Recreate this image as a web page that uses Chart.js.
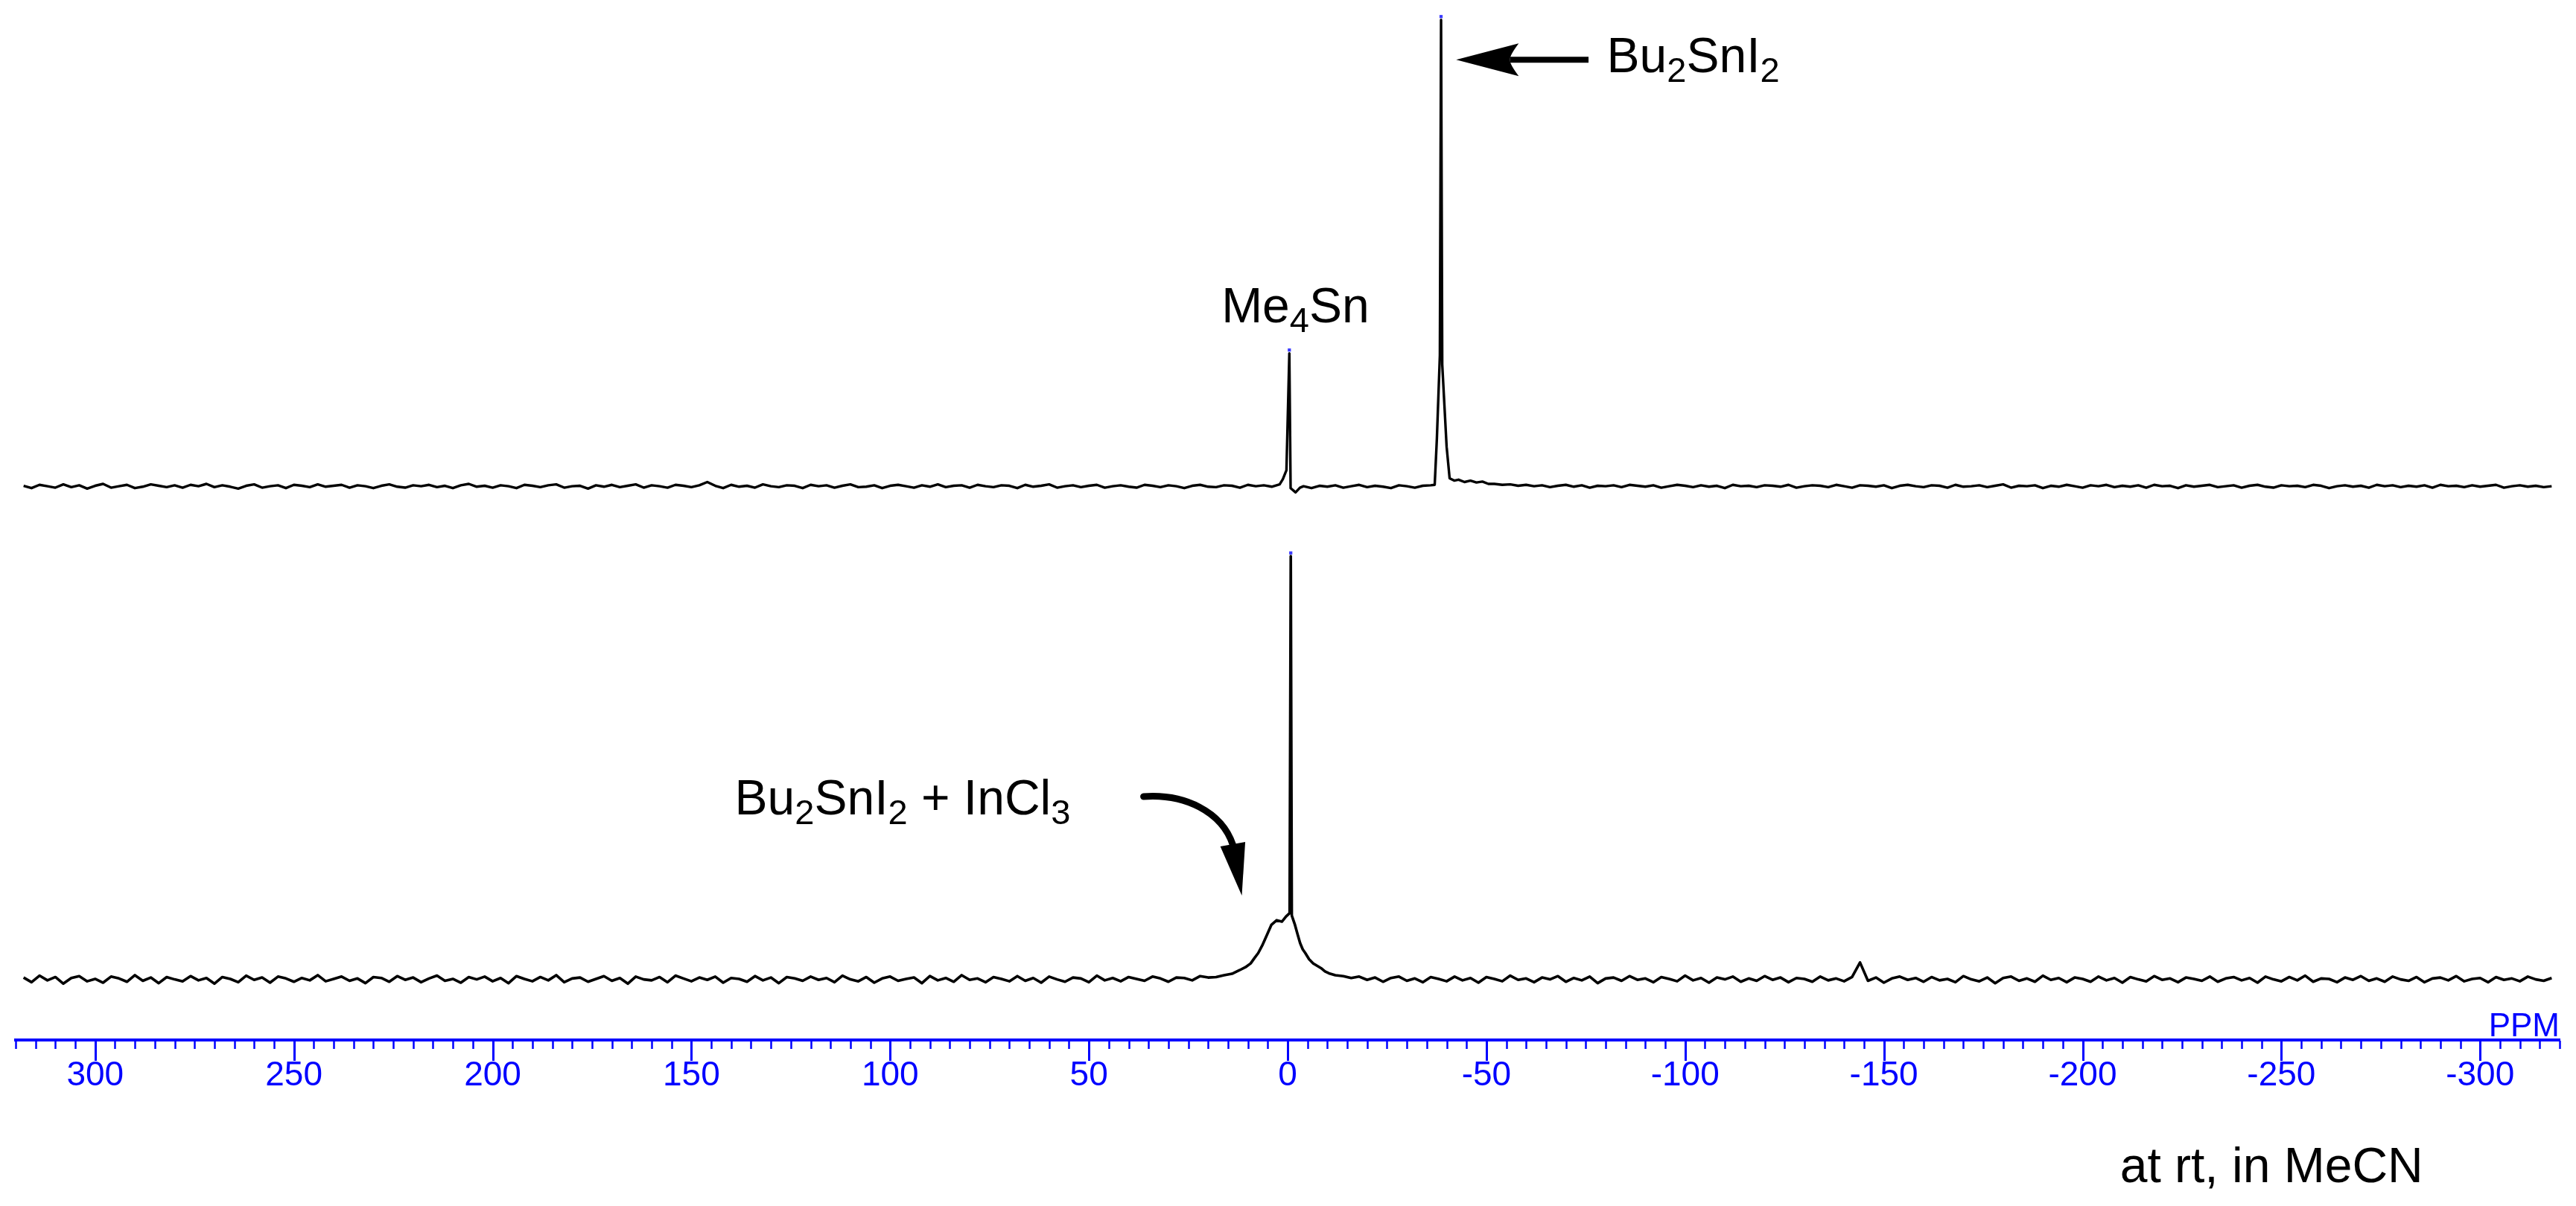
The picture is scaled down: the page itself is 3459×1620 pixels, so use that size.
<!DOCTYPE html>
<html>
<head>
<meta charset="utf-8">
<script src="https://cdn.jsdelivr.net/npm/chart.js@4.4.1/dist/chart.umd.min.js"></script>
<style>
  html, body { margin: 0; padding: 0; background: #fff; overflow: hidden; }
  canvas { display: block; }
</style>
</head>
<body>
<canvas id="c" width="3459" height="1620" style="width:3459px;height:1620px"></canvas>
<script>
// ---------------- DATA ----------------
// Baseline sampling grid: chemical shift (ppm) of sample i = GRID_START - GRID_STEP * i
const GRID_START = 318;
const GRID_STEP = 2;

// Upper spectrum (Bu2SnI2 + Me4Sn reference) baseline intensities on the grid
// (null = region covered by the peak table below)
const topNoise = [
  0.2,-0.3,0.4,0.1,-0.2,0.5,-0.1,0.3,-0.4,0.2,0.6,-0.2,0.1,0.4,-0.3,0.0,0.5,0.2,-0.1,0.3,
  -0.2,0.4,0.1,0.6,-0.1,0.3,0.0,-0.4,0.2,0.5,-0.2,0.1,0.3,-0.3,0.4,0.2,-0.1,0.5,0.0,0.2,
  0.4,-0.2,0.3,0.1,-0.3,0.2,0.5,0.0,-0.2,0.3,0.1,0.4,-0.1,0.2,-0.3,0.3,0.6,0.0,0.2,-0.2,
  0.3,0.1,-0.3,0.4,0.2,-0.1,0.3,0.5,-0.2,0.1,0.2,-0.4,0.3,0.0,0.4,-0.1,0.2,0.5,-0.2,0.3,
  0.1,-0.2,0.4,0.2,-0.1,0.3,1.0,0.2,-0.3,0.4,0.0,0.2,-0.2,0.5,0.1,-0.1,0.3,0.2,-0.3,0.4,
  0.1,0.3,-0.2,0.2,0.5,-0.1,0.0,0.3,-0.3,0.2,0.4,0.1,-0.2,0.3,0.0,0.5,-0.1,0.2,0.3,-0.2,
  0.4,0.1,-0.1,0.3,0.2,-0.3,0.4,0.0,0.2,0.5,-0.2,0.1,0.3,-0.1,0.2,0.4,-0.2,0.1,0.3,0.0,
  -0.2,0.4,0.2,-0.1,0.3,0.1,-0.3,0.2,0.4,0.0,-0.1,0.3,0.2,-0.2,0.4,0.1,0.3,0.0,0.5,null,
  null,0.1,-0.3,0.2,0.0,0.3,-0.2,0.1,0.4,-0.1,0.2,0.0,-0.3,0.3,0.1,-0.2,0.2,0.3,null,null,
  null,null,null,null,null,0.6,0.4,0.5,0.2,0.4,0.1,0.3,-0.1,0.2,0.4,0.0,0.3,-0.2,0.2,0.1,
  0.3,-0.1,0.4,0.2,0.0,0.3,-0.2,0.1,0.4,0.2,-0.1,0.3,0.0,0.2,-0.3,0.4,0.1,0.2,-0.1,0.3,
  0.2,0.0,0.4,-0.2,0.1,0.3,0.2,-0.1,0.4,0.1,-0.2,0.3,0.2,0.0,0.3,-0.3,0.2,0.4,0.1,-0.1,
  0.3,0.2,-0.2,0.4,0.0,0.1,0.3,-0.1,0.2,0.5,-0.2,0.2,0.1,0.3,-0.3,0.2,0.0,0.4,0.1,-0.2,
  0.3,0.1,0.4,-0.1,0.2,0.0,0.3,-0.2,0.4,0.1,0.2,-0.3,0.3,0.0,0.2,0.4,-0.1,0.1,0.3,-0.2,
  0.2,0.4,0.0,-0.2,0.3,0.1,0.2,-0.1,0.4,0.2,-0.3,0.1,0.3,0.0,0.2,-0.2,0.4,0.1,0.3,-0.1,
  0.2,0.0,0.3,-0.2,0.4,0.1,0.2,-0.1,0.3,0.0,0.2,0.4,-0.2,0.1,0.3,0.0,0.2,-0.1,0.1
];

// Upper spectrum peaks: Me4Sn (0 ppm) and Bu2SnI2 (about -38.6 ppm)
const topPeakShift = [1.2, 0.3, -0.43, -0.75, -2.0, -3.1,
  -37.0, -37.55, -38.3, -38.6, -38.9, -40.0, -40.75, -41.9, -43.0, -44.5, -46.0, -47.5, -49.0, -50.5];
const topPeakIntensity = [1.6, 3.5, 28.4, -0.3, -1.2, -0.2,
  0.4, 10.3, 28.0, 99.4, 26.0, 8.5, 1.8, 1.3, 1.5, 1.0, 1.3, 0.9, 1.1, 0.6];

// Lower spectrum (Bu2SnI2 + InCl3) baseline intensities on the grid
const bottomNoise = [
  0.4,-0.6,0.8,-0.2,0.5,-0.9,0.3,0.7,-0.4,0.1,-0.7,0.6,0.2,-0.5,0.9,-0.3,0.4,-0.8,0.5,0.0,
  -0.4,0.7,-0.2,0.3,-0.9,0.5,0.1,-0.6,0.8,-0.1,0.4,-0.7,0.6,0.2,-0.5,0.3,-0.2,0.9,-0.4,0.1,
  0.6,-0.3,0.2,-0.8,0.5,0.3,-0.5,0.7,-0.1,0.4,-0.6,0.2,0.8,-0.3,0.1,-0.7,0.5,0.0,0.6,-0.4,
  0.3,-0.8,0.7,0.1,-0.4,0.5,-0.2,0.9,-0.6,0.2,0.4,-0.5,0.1,0.7,-0.3,0.3,-0.9,0.6,0.0,-0.2,
  0.5,-0.6,0.8,0.2,-0.4,0.4,-0.1,0.6,-0.7,0.3,0.1,-0.5,0.7,-0.2,0.4,-0.8,0.5,0.2,-0.3,0.6,
  -0.1,0.3,-0.6,0.8,0.0,-0.4,0.5,-0.7,0.2,0.6,-0.3,0.1,0.4,-0.8,0.7,-0.2,0.3,-0.5,0.9,-0.1,
  0.2,-0.6,0.5,0.1,-0.4,0.7,-0.3,0.3,-0.7,0.6,0.0,-0.5,0.4,0.2,-0.6,0.8,-0.2,0.3,-0.4,0.5,
  0.1,-0.3,0.6,0.2,-0.5,0.4,0.3,-0.2,0.7,0.4,0.5,0.9,1.2,null,null,null,null,null,null,null,
  null,null,null,null,null,0.9,0.7,0.3,0.6,-0.1,0.4,-0.5,0.3,0.6,-0.3,0.2,-0.6,0.5,0.1,-0.4,
  0.6,-0.2,0.3,-0.7,0.5,0.1,-0.4,0.8,-0.1,0.2,-0.6,0.4,0.0,0.7,-0.5,0.3,-0.2,0.6,-0.8,0.2,
  0.4,-0.3,0.7,-0.1,0.2,-0.6,0.5,0.1,-0.4,0.8,-0.2,0.3,-0.7,0.4,0.0,0.6,-0.5,0.2,-0.3,0.7,
  -0.1,0.4,-0.6,0.3,0.1,-0.5,0.6,-0.2,0.2,-0.4,0.5,3.6,-0.3,0.4,-0.7,0.2,0.6,-0.1,0.3,-0.5,
  0.5,-0.2,0.1,-0.6,0.7,0.0,-0.4,0.4,-0.8,0.3,0.6,-0.3,0.2,-0.5,0.8,-0.1,0.3,-0.6,0.4,0.1,
  -0.5,0.6,-0.2,0.3,-0.7,0.5,0.0,-0.4,0.7,-0.1,0.2,-0.6,0.4,0.1,-0.3,0.6,-0.5,0.2,0.5,-0.2,
  0.3,-0.7,0.6,0.0,-0.4,0.5,-0.2,0.8,-0.5,0.2,0.1,-0.6,0.4,-0.1,0.7,-0.3,0.2,-0.5,0.6,0.0,
  -0.3,0.5,-0.6,0.2,0.4,-0.2,0.7,-0.4,0.1,0.3,-0.6,0.5,-0.1,0.2,-0.4,0.6,0.0,-0.3,0.3
];

// Lower spectrum: broad exchange hump near +2 ppm with the sharp Me4Sn line on top
const bottomPeakShift = [12.0, 10.6, 9.3, 8.3, 7.4, 6.4, 5.4, 4.1, 2.75, 1.45, 0.4, -0.5, -0.79, -1.05,
  -1.85, -2.5, -3.15, -3.8, -4.45, -5.4, -6.45, -7.4, -8.4, -9.4, -10.4];
const bottomPeakIntensity = [2.0, 2.6, 3.4, 4.6, 5.6, 7.2, 9.1, 11.6, 12.6, 12.3, 13.4, 14.1, 90.1, 13.6,
  11.6, 9.6, 7.7, 6.4, 5.6, 4.3, 3.4, 2.9, 2.4, 1.7, 1.3];

// Axis
const AXIS_MIN = -320, AXIS_MAX = 320, MINOR_STEP = 5, MAJOR_STEP = 50;

// ---------------- LAYOUT / STYLE ----------------
const TOP_OFFSET = 117.8;     // vertical stacking of the upper trace (y units)
const BOTTOM_OFFSET = 12.9;   // vertical stacking of the lower trace
const BLUE = '#0000ff';
const FONT = "'Liberation Sans', Arial, Helvetica, sans-serif";
const LABEL_SIZE = 66, SUB_SIZE = 47, SUB_DROP = 13;

function buildTrace(noise, peakShift, peakInt, offset) {
  const pts = [];
  noise.forEach((v, i) => { if (v !== null) pts.push({ x: GRID_START - GRID_STEP * i, y: offset + v }); });
  peakShift.forEach((x, i) => pts.push({ x: x, y: offset + peakInt[i] }));
  pts.sort((a, b) => b.x - a.x);
  return pts;
}
function apexMarks(peakShift, peakInt, offset) {
  const out = [];
  for (let i = 1; i < peakInt.length - 1; i++) {
    if (peakInt[i] > 20 && peakInt[i] >= peakInt[i - 1] && peakInt[i] >= peakInt[i + 1]) {
      out.push({ x: peakShift[i], y: offset + peakInt[i] + 0.7 });
    }
  }
  return out;
}

const topTrace = buildTrace(topNoise, topPeakShift, topPeakIntensity, TOP_OFFSET);
const bottomTrace = buildTrace(bottomNoise, bottomPeakShift, bottomPeakIntensity, BOTTOM_OFFSET);
const marks = apexMarks(topPeakShift, topPeakIntensity, TOP_OFFSET)
  .concat(apexMarks(bottomPeakShift, bottomPeakIntensity, BOTTOM_OFFSET));

// Annotation text (anchored in data coordinates: [ppm, y])
const annotationLabels = [
  { parts: [['Me'], ['4', 1], ['Sn']], at: [-1.95, 152.8], align: 'center' },
  { parts: [['Bu'], ['2', 1], ['SnI'], ['2', 1]], at: [-80.3, 206.1], align: 'left' },
  { parts: [['Bu'], ['2', 1], ['SnI'], ['2', 1], [' + InCl'], ['3', 1]], at: [139.1, 48.1], align: 'left' },
  { parts: [['at rt, in MeCN']], at: [-209.4, -30.2], align: 'left' }
];

function drawRich(ctx, parts, x, y, align) {
  const mainFont = LABEL_SIZE + 'px ' + FONT, subFont = SUB_SIZE + 'px ' + FONT;
  let w = 0;
  parts.forEach(([t, s]) => { ctx.font = s ? subFont : mainFont; w += ctx.measureText(t).width; });
  let cx = align === 'center' ? x - w / 2 : x;
  ctx.fillStyle = '#000';
  ctx.textAlign = 'left';
  ctx.textBaseline = 'alphabetic';
  parts.forEach(([t, s]) => {
    ctx.font = s ? subFont : mainFont;
    ctx.fillText(t, cx, s ? y + SUB_DROP : y);
    cx += ctx.measureText(t).width;
  });
}

const tickMarks = {
  id: 'tickMarks',
  afterDraw(chart) {
    const s = chart.scales.x, ctx = chart.ctx, y0 = chart.chartArea.bottom + 1;
    ctx.save();
    ctx.strokeStyle = BLUE;
    s.ticks.forEach(t => {
      const p = Math.round(s.getPixelForValue(t.value)) + 0.5;
      const major = t.value % MAJOR_STEP === 0;
      ctx.lineWidth = major ? 3 : 2.5;
      ctx.beginPath();
      ctx.moveTo(p, y0);
      ctx.lineTo(p, y0 + (major ? 27 : 11));
      ctx.stroke();
    });
    // PPM unit label
    ctx.fillStyle = BLUE;
    ctx.font = '44px ' + FONT;
    ctx.textAlign = 'right';
    ctx.textBaseline = 'alphabetic';
    ctx.fillText('PPM', chart.chartArea.right, chart.chartArea.bottom - 5.5);
    ctx.restore();
  }
};

const annotate = {
  id: 'annotate',
  afterDraw(chart) {
    const ctx = chart.ctx, xs = chart.scales.x, ys = chart.scales.y;
    const P = (a) => [xs.getPixelForValue(a[0]), ys.getPixelForValue(a[1])];
    ctx.save();
    annotationLabels.forEach(l => {
      const [x, y] = P(l.at);
      drawRich(ctx, l.parts, x, y, l.align);
    });

    ctx.fillStyle = '#000';
    ctx.strokeStyle = '#000';

    // straight arrow pointing at the Bu2SnI2 line
    {
      const tail = P([-75.7, 208.7]), tip = P([-42.4, 208.7]);
      let dx = tip[0] - tail[0], dy = tip[1] - tail[1];
      const L = Math.hypot(dx, dy); dx /= L; dy /= L;
      const nx = -dy, ny = dx;
      const back = [tip[0] - dx * 84, tip[1] - dy * 84];
      const notch = [tip[0] - dx * 72, tip[1] - dy * 72];
      ctx.lineWidth = 8; ctx.lineCap = 'butt';
      ctx.beginPath(); ctx.moveTo(tail[0], tail[1]); ctx.lineTo(notch[0], notch[1]); ctx.stroke();
      ctx.beginPath();
      ctx.moveTo(tip[0], tip[1]);
      ctx.lineTo(back[0] + nx * 22, back[1] + ny * 22);
      ctx.quadraticCurveTo(notch[0] + nx * 6, notch[1] + ny * 6, notch[0], notch[1]);
      ctx.quadraticCurveTo(notch[0] - nx * 6, notch[1] - ny * 6, back[0] - nx * 22, back[1] - ny * 22);
      ctx.closePath(); ctx.fill();
    }

    // curved arrow pointing at the broad hump
    {
      const p0 = P([36.24, 51.83]), c1 = P([25.94, 52.46]), c2 = P([16.58, 48.66]), p2 = P([13.77, 41.53]);
      const tip = P([11.52, 30.75]);
      ctx.lineWidth = 9; ctx.lineCap = 'round';
      ctx.beginPath(); ctx.moveTo(p0[0], p0[1]);
      ctx.bezierCurveTo(c1[0], c1[1], c2[0], c2[1], p2[0], p2[1]);
      ctx.stroke();
      let dx = tip[0] - p2[0], dy = tip[1] - p2[1];
      const L = Math.hypot(dx, dy); dx /= L; dy /= L;
      const nx = -dy, ny = dx;
      const base = [tip[0] - dx * 70, tip[1] - dy * 70];
      ctx.beginPath();
      ctx.moveTo(tip[0], tip[1]);
      ctx.lineTo(base[0] + nx * 17, base[1] + ny * 17);
      ctx.lineTo(base[0] - nx * 17, base[1] - ny * 17);
      ctx.closePath(); ctx.fill();
    }
    ctx.restore();
  }
};

new Chart(document.getElementById('c'), {
  type: 'line',
  data: {
    datasets: [
      { label: 'peak marks', data: marks, showLine: false, pointStyle: 'rect', pointRadius: 3,
        backgroundColor: '#3a3aff', borderWidth: 0, order: 0 },
      { label: 'Bu2SnI2 + Me4Sn', data: topTrace, borderColor: '#000', borderWidth: 3.4,
        pointRadius: 0, tension: 0, fill: false, borderJoinStyle: 'round', order: 1 },
      { label: 'Bu2SnI2 + InCl3', data: bottomTrace, borderColor: '#000', borderWidth: 3.6,
        pointRadius: 0, tension: 0, fill: false, borderJoinStyle: 'round', order: 1 }
    ]
  },
  options: {
    responsive: false,
    maintainAspectRatio: false,
    devicePixelRatio: 1,
    animation: false,
    events: [],
    layout: { padding: { left: 20, right: 22, top: 9, bottom: 0 } },
    plugins: { legend: { display: false }, tooltip: { enabled: false }, title: { display: false } },
    scales: {
      x: {
        type: 'linear',
        reverse: true,
        min: AXIS_MIN,
        max: AXIS_MAX,
        position: 'bottom',
        afterFit(scale) { scale.height = 223; },
        grid: { display: true, drawOnChartArea: false, drawTicks: false },
        border: { display: true, color: BLUE, width: 4 },
        ticks: {
          stepSize: MINOR_STEP,
          autoSkip: false,
          maxRotation: 0,
          minRotation: 0,
          padding: 21,
          color: BLUE,
          font: { family: FONT, size: 46 },
          callback: (v) => (v % MAJOR_STEP === 0 ? String(v) : '')
        }
      },
      y: { type: 'linear', display: false, min: 0, max: 220 }
    }
  },
  plugins: [tickMarks, annotate]
});
</script>
</body>
</html>
